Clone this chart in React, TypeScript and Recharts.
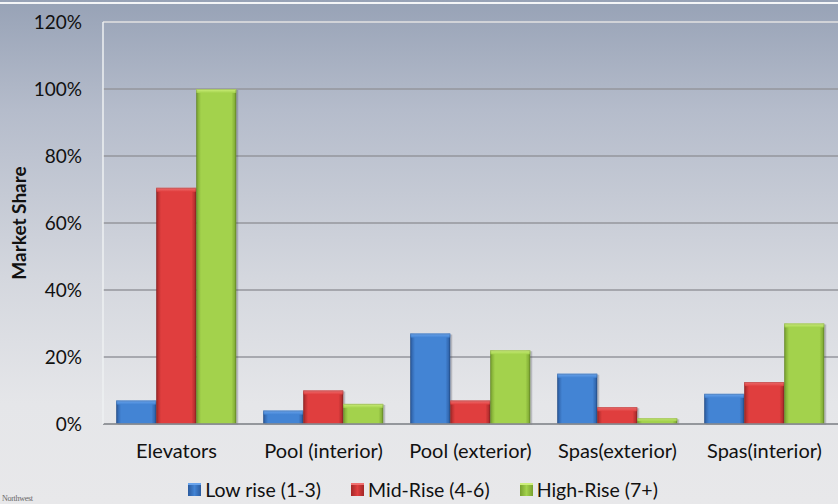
import { BarChart, Bar, XAxis, YAxis, CartesianGrid, Legend, ReferenceLine } from 'recharts';

const categories = ['Elevators', 'Pool (interior)', 'Pool (exterior)', 'Spas(exterior)', 'Spas(interior)'];
const lowRise = [7, 4, 27, 15, 9];
const midRise = [70.5, 10, 7, 5, 12.5];
const highRise = [100, 6, 22, 1.7, 30];
const yTicks = [0, 20, 40, 60, 80, 100, 120];

const series = [
  { key: 'low', label: 'Low rise (1-3)', values: lowRise, edge: '#2a5a9e', mid: '#4384d4', top: '#6aa4ec' },
  { key: 'mid', label: 'Mid-Rise (4-6)', values: midRise, edge: '#a22727', mid: '#e03e3e', top: '#f07070' },
  { key: 'high', label: 'High-Rise (7+)', values: highRise, edge: '#77a02e', mid: '#a3d24c', top: '#cdef7c' },
];

const data = categories.map((name, i) => ({
  name,
  low: lowRise[i],
  mid: midRise[i],
  high: highRise[i],
}));

const FONT = 'Lato, "Open Sans", sans-serif';

function GlossBar(props: any) {
  const { x, y, width, height, id } = props;
  if (!height || height <= 0) return null;
  const bevel = Math.min(4, height / 2);
  return (
    <g>
      <rect x={x + 2} y={y + 1} width={width} height={height} fill="rgba(60,60,70,0.25)" />
      <rect x={x} y={y} width={width} height={height} fill={`url(#g-${id})`} />
      <rect x={x} y={y} width={width} height={bevel} fill={`url(#t-${id})`} />
      <rect x={x + 0.5} y={y + 0.5} width={width - 1} height={height - 1} fill="none" stroke="rgba(0,0,0,0.15)" />
    </g>
  );
}

// keep the legend in series order rather than the sorted payload
function LegendBox() {
  return (
    <div style={{ display: 'flex', justifyContent: 'center', gap: 30, fontFamily: FONT, fontSize: 19.5, color: '#111', paddingLeft: 8 }}>
      {series.map((s) => (
        <div key={s.key} style={{ display: 'flex', alignItems: 'center', gap: 4 }}>
          <div
            style={{
              width: 13,
              height: 13,
              background: `linear-gradient(90deg, ${s.edge}, ${s.mid}, ${s.edge})`,
              boxShadow: `inset 0 2px 0 ${s.top}`,
            }}
          />
          <span>{s.label}</span>
        </div>
      ))}
    </div>
  );
}

export default function App() {
  return (
    <div
      style={{
        position: 'absolute',
        left: 0,
        top: 0,
        width: 838,
        height: 504,
        background: 'linear-gradient(180deg, #97a2b6 0%, #b5bccb 22%, #d4d7de 55%, #e5e6e9 80%, #e8e8ea 100%)',
        overflow: 'hidden',
      }}
    >
      <div style={{ position: 'absolute', left: 0, top: 2, width: 838, height: 2, background: '#f4f5f7' }} />
      <BarChart
        width={838}
        height={504}
        data={data}
        margin={{ top: 22, right: 0, bottom: 0, left: 0 }}
        barCategoryGap="9%"
        barGap={0}
      >
        <defs>
          {series.map((s) => (
            <linearGradient key={s.key} id={`g-${s.key}`} x1="0" y1="0" x2="1" y2="0">
              <stop offset="0%" stopColor={s.edge} />
              <stop offset="12%" stopColor={s.mid} />
              <stop offset="88%" stopColor={s.mid} />
              <stop offset="100%" stopColor={s.edge} />
            </linearGradient>
          ))}
          {series.map((s) => (
            <linearGradient key={s.key} id={`t-${s.key}`} x1="0" y1="0" x2="0" y2="1">
              <stop offset="0%" stopColor={s.top} />
              <stop offset="100%" stopColor={s.mid} />
            </linearGradient>
          ))}
        </defs>
        <CartesianGrid vertical={false} stroke="#94969c" strokeWidth={1.6} />
        <ReferenceLine y={120} stroke="#e4e6ea" strokeWidth={1.5} />
        <XAxis
          dataKey="name"
          height={54}
          tickLine={false}
          axisLine={{ stroke: '#8e9096', strokeWidth: 1.5 }}
          tickSize={0}
          tickMargin={20}
          tick={{ fontFamily: FONT, fontSize: 20, fill: '#111' }}
        />
        <YAxis
          width={103}
          domain={[0, 120]}
          ticks={yTicks}
          tickFormatter={(v: number) => `${v}%`}
          tickLine={false}
          axisLine={{ stroke: '#eef0f2', strokeWidth: 1.5 }}
          tickSize={0}
          tickMargin={21}
          tick={{ fontFamily: FONT, fontSize: 19, fill: '#111' }}
          label={{
            value: 'Market Share',
            angle: -90,
            position: 'insideLeft',
            dx: 14,
            style: { fontFamily: FONT, fontSize: 19, fontWeight: 700, fill: '#111', textAnchor: 'middle' },
          }}
        />
        <Legend verticalAlign="bottom" height={26} content={<LegendBox />} />
        {series.map((s) => (
          <Bar
            key={s.key}
            dataKey={s.key}
            name={s.label}
            isAnimationActive={false}
            shape={(p: any) => <GlossBar {...p} id={s.key} />}
          />
        ))}
      </BarChart>
      <div
        style={{
          position: 'absolute',
          left: 2,
          top: 494,
          fontFamily: '"Liberation Serif", serif',
          fontSize: 8,
          color: '#666',
          letterSpacing: -0.3,
        }}
      >
        Northwest
      </div>
    </div>
  );
}
